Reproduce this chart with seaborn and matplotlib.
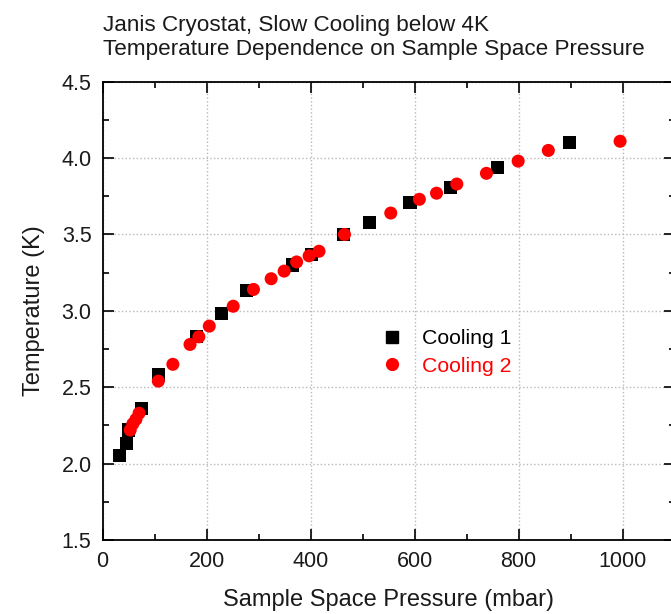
import numpy as np
import pandas as pd
import matplotlib
matplotlib.use("Agg")
import matplotlib.pyplot as plt
import seaborn as sns
from matplotlib.ticker import MultipleLocator

# Cooling run 1: sample space pressure (mbar) vs temperature (K)
cool1_p = [33, 45, 50, 74, 107, 181, 228, 276, 365, 401, 463, 514, 591, 669, 760, 897]
cool1_t = [2.05, 2.13, 2.22, 2.36, 2.58, 2.83, 2.98, 3.13, 3.30, 3.37, 3.50, 3.58, 3.71, 3.81, 3.94, 4.10]

# Cooling run 2
cool2_p = [53, 58, 64, 70, 107, 135, 168, 185, 205, 251, 290, 324, 349, 373, 397, 416,
           465, 554, 609, 642, 681, 738, 799, 857, 995]
cool2_t = [2.22, 2.26, 2.29, 2.33, 2.54, 2.65, 2.78, 2.83, 2.90, 3.03, 3.14, 3.21, 3.26, 3.32,
           3.36, 3.39, 3.50, 3.64, 3.73, 3.77, 3.83, 3.90, 3.98, 4.05, 4.11]

series_names = ["Cooling 1", "Cooling 2"]
series_colors = ["black", "red"]
series_markers = ["s", "o"]

x_ticks = [0, 200, 400, 600, 800, 1000]
y_ticks = [1.5, 2.0, 2.5, 3.0, 3.5, 4.0, 4.5]

df = pd.concat([
    pd.DataFrame({"pressure": cool1_p, "temperature": cool1_t, "run": series_names[0]}),
    pd.DataFrame({"pressure": cool2_p, "temperature": cool2_t, "run": series_names[1]}),
], ignore_index=True)

sns.set_theme(style="white")
plt.rcParams["font.family"] = ["Liberation Sans", "DejaVu Sans"]
text_color = "#1a1a1a"

fig = plt.figure(figsize=(6.71, 6.14), dpi=100)
ax = fig.add_axes([0.153, 0.1205, 0.8525, 0.7465])

sns.scatterplot(
    data=df, x="pressure", y="temperature", hue="run", style="run",
    palette=dict(zip(series_names, series_colors)),
    markers=dict(zip(series_names, series_markers)),
    s=88, edgecolor="none", linewidth=0, ax=ax, legend=False, zorder=3,
)

ax.set_xlim(0, 1100)
ax.set_ylim(1.5, 4.5)
ax.set_xticks(x_ticks)
ax.set_yticks(y_ticks)
ax.set_yticklabels([f"{v:.1f}" for v in y_ticks])
ax.xaxis.set_minor_locator(MultipleLocator(100))
ax.yaxis.set_minor_locator(MultipleLocator(0.25))

ax.grid(True, which="major", linestyle=":", color="#b8b8b8", linewidth=1.0)
ax.set_axisbelow(True)

for sp in ax.spines.values():
    sp.set_color("black")
    sp.set_linewidth(1.3)

ax.tick_params(which="both", direction="in", top=True, right=True,
               bottom=True, left=True, colors="black", width=1.2,
               labelsize=15.5, labelcolor=text_color, pad=8)
ax.tick_params(which="major", length=8)
ax.tick_params(which="minor", length=4.5)

ax.set_xlabel("Sample Space Pressure (mbar)", fontsize=17, labelpad=12, color=text_color)
ax.set_ylabel("Temperature (K)", fontsize=17, labelpad=12, color=text_color)

fig.text(103 / 671, 1 - 30.7 / 614, "Janis Cryostat, Slow Cooling below 4K",
         fontsize=16.2, ha="left", va="baseline", color=text_color)
fig.text(103 / 671, 1 - 55 / 614, "Temperature Dependence on Sample Space Pressure",
         fontsize=16.2, ha="left", va="baseline", color=text_color)

handles = [
    plt.Line2D([], [], linestyle="none", marker=m, color=c, markersize=8.5)
    for m, c in zip(series_markers, series_colors)
]
ax.legend(handles, series_names, loc="center left", bbox_to_anchor=(0.54, 0.426),
          bbox_transform=fig.transFigure, frameon=False, fontsize=15.3,
          labelcolor=series_colors, handlelength=1.0, handletextpad=0.9,
          labelspacing=0.42)

fig.savefig("out.png", dpi=100)
